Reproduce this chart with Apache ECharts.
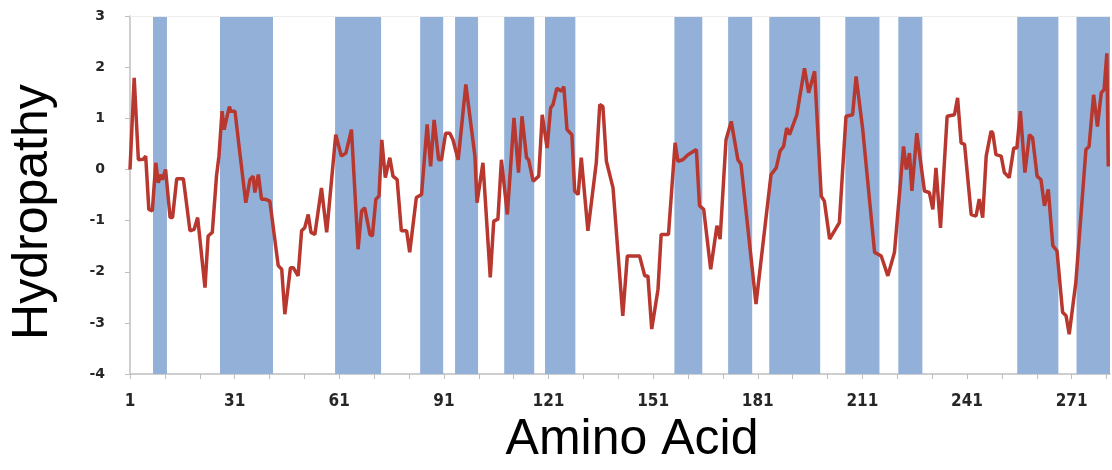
<!DOCTYPE html>
<html>
<head>
<meta charset="utf-8">
<script src="https://cdn.jsdelivr.net/npm/echarts@6/dist/echarts.min.js"></script>
<style>
  html, body { margin: 0; padding: 0; background: #fff; }
  #chart { width: 1112px; height: 470px; }
</style>
</head>
<body>
<div id="chart"></div>
<script>
// residue positions and hydropathy values
const residue = [1, 2.2, 3.4, 4.8, 5.5, 6.4, 7.4, 8.4, 9.1, 9.9, 10.3, 11.2, 12.5, 13.2, 14.4, 16.3, 18.2, 19.4, 20.4, 22.5,
  23.4, 24.6, 25.8, 26.5, 27.4, 28, 28.7, 29.5, 29.9, 31.1, 32.5, 34.2, 35.4, 36.3, 36.8, 37.8, 38.7, 39.7, 41.1, 43.5,
  44.5, 45.4, 47, 47.8, 49.2, 50.2, 51.1, 52.1, 52.9, 54, 55.9, 57.4, 60, 61.6, 62.9, 64.5, 66.4, 67.4, 68.3, 69.8,
  70.5, 71.5, 72.4, 73.2, 74.2, 75.5, 76.4, 77.6, 78.8, 80.3, 81.2, 83.1, 84.6, 86.2, 87.2, 88.2, 89.5, 90.3, 91.5, 92.7,
  93.6, 95.1, 97.3, 99.9, 100.5, 102.2, 104.3, 105.3, 106.5, 107.5, 109.2, 111.1, 112.4, 113.4, 114.7, 115.3, 116.6, 118.2, 119.2, 120.6,
  121.6, 122.3, 123.4, 124.7, 125.4, 126.3, 127.7, 128.5, 129.5, 130.4, 132.3, 134.7, 135.7, 136.6, 137.6, 139.5, 142.3, 143.6, 147.1, 148.6,
  149.5, 150.6, 152.4, 153.3, 155.4, 157.3, 158.1, 159.5, 161, 163.4, 164.3, 165.5, 167.5, 169.3, 170.2, 171.9, 173.4, 175.3, 176.2, 180.5,
  184.8, 186.3, 187.4, 188.4, 189.3, 190.1, 192.2, 194.4, 195.6, 197.3, 199.2, 200.1, 201.6, 204.4, 206.3, 208.2, 209.2, 211.1, 214.5, 216.4,
  218.3, 220.2, 222.8, 223.6, 224.5, 225.2, 226.6, 228.8, 230.2, 231.2, 232.1, 233.4, 235.3, 237.4, 238.3, 239.3, 240.3, 242.2, 243.6, 244.5,
  245.5, 246.5, 247.9, 248.4, 249.3, 250.8, 251.7, 253.1, 254.4, 255.3, 256.3, 257.6, 258.9, 259.8, 261.1, 262.2, 263.2, 264.3, 265.6, 266.8,
  268.4, 269.4, 270.3, 272.2, 275.1, 276, 277.3, 278.4, 279.5, 280.3, 281.1, 281.5];
const hydropathy = [0, 1.79, 0.19, 0.2, 0.26, -0.78, -0.81, 0.13, -0.26, -0.1, -0.2, 0, -0.94, -0.94, -0.18, -0.18, -1.2, -1.17, -0.94, -2.31,
  -1.3, -1.23, -0.13, 0.26, 1.14, 0.78, 1.0, 1.23, 1.14, 1.14, 0.32, -0.65, -0.2, -0.13, -0.45, -0.1, -0.58, -0.58, -0.62, -1.88,
  -1.95, -2.83, -1.92, -1.92, -2.08, -1.2, -1.14, -0.88, -1.23, -1.27, -0.36, -1.23, 0.68, 0.26, 0.32, 0.78, -1.56, -0.81, -0.75, -1.27,
  -1.3, -0.58, -0.52, 0.58, -0.16, 0.23, -0.13, -0.2, -1.2, -1.2, -1.62, -0.55, -0.49, 0.88, 0.06, 0.97, 0.19, 0.19, 0.71, 0.71,
  0.58, 0.19, 1.66, 0.26, -0.65, 0.13, -2.11, -1.01, -0.97, 0.19, -0.88, 1.01, -0.06, 1.04, 0.23, 0.19, -0.23, -0.13, 1.07, 0.42,
  1.2, 1.27, 1.59, 1.53, 1.62, 0.78, 0.68, -0.42, -0.49, 0.23, -1.2, 0.13, 1.27, 1.23, 0.16, -0.36, -2.86, -1.69, -1.69, -2.08,
  -2.08, -3.12, -2.34, -1.27, -1.27, 0.52, 0.16, 0.19, 0.29, 0.39, -0.71, -0.78, -1.95, -1.1, -1.36, 0.58, 0.94, 0.19, 0.1, -2.63,
  -0.1, 0.03, 0.36, 0.45, 0.81, 0.68, 1.07, 1.98, 1.5, 1.92, -0.52, -0.62, -1.36, -1.04, 1.04, 1.07, 1.82, 0.78, -1.62, -1.69,
  -2.08, -1.62, 0.45, 0, 0.32, -0.42, 0.71, -0.42, -0.45, -0.78, 0.03, -1.14, 1.04, 1.07, 1.4, 0.52, 0.49, -0.88, -0.91, -0.58,
  -0.94, 0.26, 0.75, 0.71, 0.29, 0.26, -0.06, -0.16, 0.42, 0.42, 1.14, -0.06, 0.68, 0.62, -0.13, -0.2, -0.71, -0.39, -1.49, -1.59,
  -2.79, -2.86, -3.22, -2.21, 0.39, 0.45, 1.46, 0.84, 1.5, 1.56, 2.27, 0.06];

// shaded segments (start / end residue)
const bandStart = [7.6, 26.8, 59.8, 84.2, 94.2, 108.3, 120.0, 157.1, 172.5, 184.3, 206.1, 221.3, 255.4, 272.4];
const bandEnd = [11.6, 42.0, 73.0, 90.8, 100.8, 116.9, 128.7, 165.1, 179.4, 198.9, 215.9, 228.2, 267.2, 282];

const xTicks = [1, 11, 21, 31, 41, 51, 61, 71, 81, 91, 101, 111, 121, 131, 141, 151, 161, 171, 181, 191, 201, 211, 221, 231, 241, 251, 261, 271, 281];
const xLabels = [1, 31, 61, 91, 121, 151, 181, 211, 241, 271];

const chart = echarts.init(document.getElementById('chart'));

const lineData = residue.map((r, i) => [r, hydropathy[i]]);
const bands = bandStart.map((s, i) => [{ xAxis: s }, { xAxis: bandEnd[i] }]);

chart.setOption({
  animation: false,
  grid: { left: 130, right: 2, top: 16, bottom: 95 },
  xAxis: {
    type: 'value',
    min: 1,
    max: 282,
    name: 'Amino Acid',
    nameLocation: 'middle',
    nameGap: 40,
    nameTextStyle: {
      fontFamily: 'Liberation Sans, Arial, sans-serif',
      fontSize: 50,
      color: '#000',
      padding: [0, 0, 0, 24]
    },
    axisLine: { onZero: false, lineStyle: { color: '#bfbfbf', width: 1.5 } },
    axisTick: { show: true, customValues: xTicks, length: 5, lineStyle: { color: '#bfbfbf' } },
    axisLabel: {
      customValues: xLabels,
      margin: 19,
      fontFamily: '"Liberation Sans Narrow", "DejaVu Sans Condensed", sans-serif',
      fontWeight: 'bold',
      fontSize: 17,
      color: '#262626'
    },
    splitLine: { show: false }
  },
  yAxis: {
    type: 'value',
    min: -4,
    max: 3,
    interval: 1,
    name: 'Hydropathy',
    nameLocation: 'middle',
    nameRotate: 90,
    nameGap: 72,
    nameTextStyle: {
      fontFamily: 'Liberation Sans, Arial, sans-serif',
      fontSize: 50,
      color: '#000',
      padding: [0, 34, 0, 0]
    },
    axisLine: { show: true, lineStyle: { color: '#bfbfbf', width: 1.5 } },
    axisTick: { show: true, length: 5, lineStyle: { color: '#bfbfbf' } },
    axisLabel: {
      margin: 25,
      fontFamily: '"DejaVu Sans", sans-serif',
      fontWeight: 'bold',
      fontSize: 14,
      color: '#262626'
    },
    splitLine: { show: false }
  },
  series: [
    {
      name: 'bands',
      type: 'line',
      data: [],
      z: 1,
      silent: true,
      markArea: {
        silent: true,
        itemStyle: { color: '#93b1d8' },
        data: bands
      },
      markLine: {
        silent: true,
        symbol: 'none',
        label: { show: false },
        lineStyle: { color: '#ececec', type: 'solid', width: 1 },
        data: [{ yAxis: 3 }]
      }
    },
    {
      name: 'Hydropathy',
      type: 'line',
      data: lineData,
      z: 3,
      showSymbol: false,
      lineStyle: { color: '#b8372f', width: 3.5 },
      itemStyle: { color: '#b8372f' }
    }
  ]
});
</script>
</body>
</html>
